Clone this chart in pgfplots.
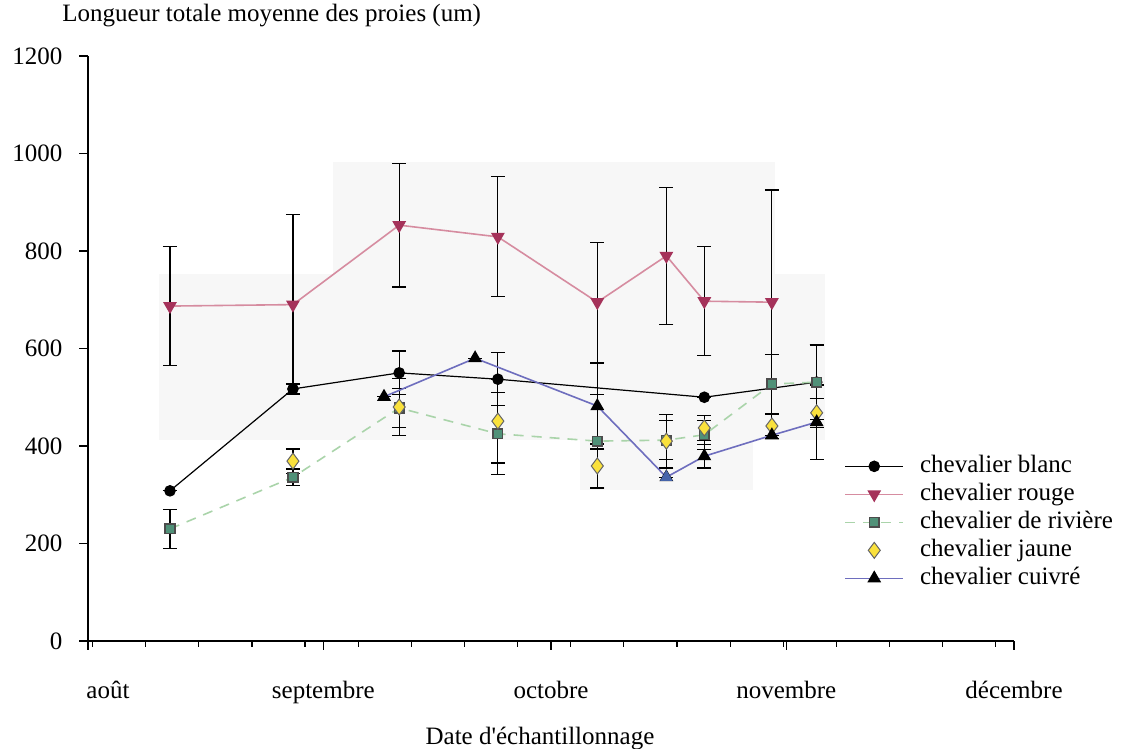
\documentclass[border=0pt]{standalone}
\usepackage{pgfplots}
\usepackage{pgfplotstable}
\pgfplotsset{compat=1.18}
\usepackage{fontspec}
\setmainfont{Liberation Serif}

\definecolor{redline}{RGB}{214,140,160}
\definecolor{redmark}{RGB}{165,50,90}
\definecolor{greenline}{RGB}{170,212,170}
\definecolor{greenmark}{RGB}{80,145,120}
\definecolor{yellowfill}{RGB}{250,225,60}
\definecolor{blueline}{RGB}{110,110,190}
\definecolor{bluemark}{RGB}{70,100,170}

% day = days since 1 August; e = standard deviation
\pgfplotstableread{
x    y    e
10.8 308  0
27.0 517  10
41.0 550  45
54.0 537  54
81.2 500  0
96.0 531  76
}\blanc
\pgfplotstableread{
x    y    e
10.8 687  122
27.0 690  185
41.0 853  127
54.0 829  123
67.1 695  123
76.2 790  140
81.2 697  112
90.1 695  230
}\rouge
\pgfplotstableread{
x    y    e
10.8 230  40
27.0 336  17
41.0 478  40
54.0 425  84
67.1 410  95
76.2 412  40
81.2 423  30
90.1 527  60
96.0 531  76
}\riviere
\pgfplotstableread{
x    y    e
27.0 369  25
41.0 480  58
54.0 451  86
67.1 359  45
76.2 410  55
81.2 437  26
90.1 441  25
96.0 468  30
}\jaune
\pgfplotstableread{
x    y    e
39.0 501  0
51.0 580  0
67.1 482  88
76.2 336  0
81.2 379  24
90.1 422  0
96.0 449  76
}\cuivre

\begin{document}
\fontsize{12.5}{15}\selectfont
\begin{tikzpicture}
\useasboundingbox (0,0) rectangle (562.5pt,374.5pt);
% faint grey shading of the scanned sheet
\fill[black!3] (79.5pt,237.5pt) rectangle (412.5pt,154.5pt);
\fill[black!3] (166.5pt,293.5pt) rectangle (387.5pt,237.5pt);
\fill[black!3] (290pt,154.5pt) rectangle (376.5pt,129.5pt);

\begin{axis}[
  at={(44pt,54pt)}, anchor=south west,
  width=463pt, height=292.5pt, scale only axis,
  xmin=0, xmax=122, ymin=0, ymax=1200,
  clip=false,
  axis x line*=bottom, axis y line*=left,
  axis line style={-, black, line width=0.6pt},
  tick align=outside,
  tick style={black, line width=0.6pt},
  major tick length=4.5pt, minor tick length=3pt,
  ytick={0,200,...,1200},
  xtick={0,31,61,92,122},
  xticklabels={\hspace{20pt}août, septembre, octobre, novembre, décembre},
  minor xtick={0.6,7.6,...,120},
  xticklabel style={yshift=-11pt},
  yticklabel style={xshift=-4pt},
  /pgf/number format/assume math mode=true,
  /pgf/number format/set thousands separator={},
  every tick label/.append style={font=\fontsize{12.5}{15}\selectfont},
  error bars/y dir=both, error bars/y explicit,
  error bars/error bar style={black, line width=0.6pt, solid},
  error bars/error mark options={rotate=90, mark size=3.5pt, black, line width=0.6pt, solid},
  legend style={draw=none, fill=none, at={(0.81,0.33)}, anchor=north west,
    font=\fontsize{12.5}{15}\selectfont,
    nodes={inner sep=1pt, text height=9pt, text depth=3pt},
    row sep=0pt},
  legend cell align=left,
  /tikz/every odd column/.append style={column sep=7pt},
  legend image code/.code={\draw[mark repeat=2,mark phase=2] plot coordinates {(0pt,0pt) (14.5pt,0pt) (29pt,0pt)};},
]
\addplot[black, line width=0.6pt, mark=*, mark size=2.6pt, mark options={solid, fill=black}]
  table[x=x, y=y, y error=e] {\blanc};
\addlegendentry{chevalier blanc}
\addplot[redline, line width=0.8pt, mark=triangle*, mark size=3.2pt, mark options={solid, rotate=180, fill=redmark, draw=redmark}]
  table[x=x, y=y, y error=e] {\rouge};
\addlegendentry{chevalier rouge}
\addplot[greenline, line width=0.8pt, dash pattern=on 5pt off 4pt, mark=square*, mark size=2.4pt, mark options={solid, fill=greenmark, draw=black!70}]
  table[x=x, y=y, y error=e] {\riviere};
\addlegendentry{chevalier de rivière}
\addplot[only marks, mark=diamond*, mark size=4pt, mark options={solid, fill=yellowfill, draw=black!60, line width=0.5pt}]
  table[x=x, y=y, y error=e] {\jaune};
\addlegendentry{chevalier jaune}
\addplot[blueline, line width=0.8pt, mark=triangle*, mark size=3.2pt, mark options={solid, fill=black, draw=black}]
  table[x=x, y=y, y error=e] {\cuivre};
\addlegendentry{chevalier cuivré}
% the October sample of the copper redhorse is drawn in blue
\addplot[forget plot, only marks, mark=triangle*, mark size=3.2pt, mark options={solid, fill=bluemark, draw=bluemark}]
  coordinates {(76.2,336)};
\end{axis}

\node[anchor=base west, inner sep=0pt] at (31pt,363.5pt) {Longueur totale moyenne des proies (um)};
\node[inner sep=0pt] at (270pt,5pt) {Date d\textquotesingle échantillonnage};
\end{tikzpicture}
\end{document}
